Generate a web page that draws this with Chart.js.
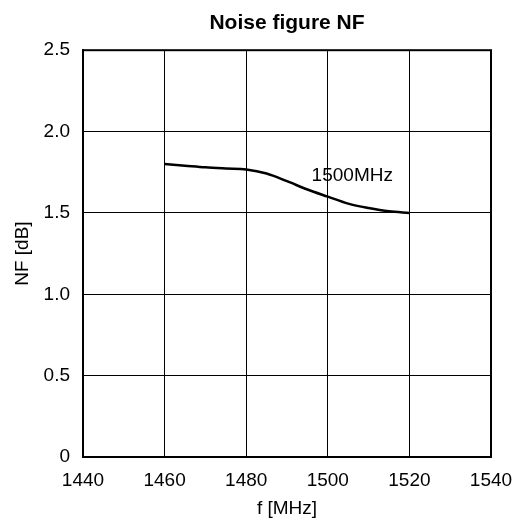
<!DOCTYPE html>
<html>
<head>
<meta charset="utf-8">
<script src="https://cdn.jsdelivr.net/npm/chart.js@4/dist/chart.umd.min.js"></script>
<style>
  html, body { margin: 0; padding: 0; background: #fff; }
</style>
</head>
<body>
<canvas id="nf-chart" width="519" height="520"></canvas>
<script>
// values
const freq = [1460, 1465, 1470, 1475, 1480, 1485, 1490, 1495, 1500, 1505, 1510, 1515, 1520];
const nf = [1.80, 1.79, 1.78, 1.773, 1.767, 1.742, 1.695, 1.644, 1.60, 1.557, 1.53, 1.51, 1.50];
const xTicks = [1440, 1460, 1480, 1500, 1520, 1540];
const yTicks = [0, 0.5, 1.0, 1.5, 2.0, 2.5];
const noteText = '1500MHz';
const notePos = { x: 1506, y: 1.73 };

Chart.defaults.font.family = '"Liberation Sans", Arial, sans-serif';
Chart.defaults.color = '#000';

// frame round the plot area and the curve label
const framePlugin = {
    id: 'frame',
    afterDatasetsDraw(chart) {
        const { ctx, chartArea: a, scales } = chart;
        ctx.save();
        ctx.strokeStyle = '#000';
        ctx.lineWidth = 2;
        ctx.strokeRect(a.left, a.top, a.right - a.left, a.bottom - a.top);
        ctx.font = '19px "Liberation Sans", Arial, sans-serif';
        ctx.fillStyle = '#000';
        ctx.textAlign = 'center';
        ctx.textBaseline = 'middle';
        ctx.fillText(noteText, scales.x.getPixelForValue(notePos.x), scales.y.getPixelForValue(notePos.y));
        ctx.restore();
    },
};

const ctx = document.getElementById('nf-chart').getContext('2d');
const nfChart = new Chart(ctx, {
    type: 'scatter',
    data: {
        datasets: [{
            data: freq.map((f, i) => ({ x: f, y: nf[i] })),
            showLine: true,
            borderColor: '#000',
            borderWidth: 2.5,
            pointRadius: 0,
            cubicInterpolationMode: 'monotone',
        }],
    },
    options: {
        responsive: false,
        animation: false,
        layout: { padding: { left: 0, right: 28, top: 0, bottom: 0 } },
        plugins: {
            legend: { display: false },
            tooltip: { enabled: false },
            title: {
                display: true,
                fullSize: false,
                text: 'Noise figure NF',
                font: { size: 21, weight: 'bold' },
                padding: { top: 11, bottom: 14 },
            },
        },
        scales: {
            x: {
                type: 'linear',
                min: 1440,
                max: 1540,
                afterBuildTicks: s => { s.ticks = xTicks.map(v => ({ value: v })); },
                afterFit: s => { s.height = 63; s.paddingLeft = 0; s.paddingRight = 0; },
                ticks: { font: { size: 19 }, padding: 12, maxRotation: 0, callback: v => String(v) },
                grid: { color: '#000', lineWidth: 1, drawTicks: false },
                border: { color: '#000', width: 2 },
                title: { display: true, text: 'f [MHz]', font: { size: 19 }, padding: { top: 0, bottom: 0 } },
            },
            y: {
                min: 0,
                max: 2.5,
                afterBuildTicks: s => { s.ticks = yTicks.map(v => ({ value: v })); },
                afterFit: s => { s.width = 83; },
                ticks: {
                    font: { size: 19 },
                    padding: 13,
                    callback: v => (v === 0 ? '0' : v.toFixed(1)),
                },
                grid: { color: '#000', lineWidth: 1, drawTicks: false },
                border: { color: '#000', width: 2 },
                title: { display: true, text: 'NF [dB]', font: { size: 19 }, padding: { top: 11, bottom: 0 } },
            },
        },
    },
    plugins: [framePlugin],
});
</script>
</body>
</html>
